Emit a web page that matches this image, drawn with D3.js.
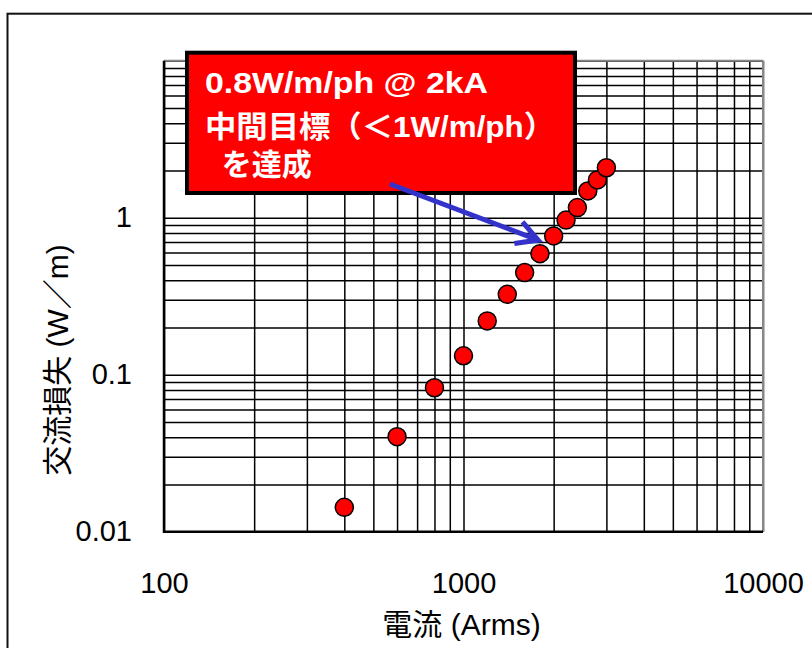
<!DOCTYPE html>
<html>
<head>
<meta charset="utf-8">
<script src="https://cdn.jsdelivr.net/npm/d3@7"></script>
<style>
  html, body { margin: 0; padding: 0; background: #fff; }
  svg { display: block; }
  text { font-family: "Liberation Sans", Arial, "Noto Sans CJK JP", sans-serif; }
</style>
</head>
<body>
<svg id="chart" width="812" height="648"></svg>
<script>
// Measured AC loss versus transport current
const current = [400, 600, 800, 1000, 1200, 1400, 1600, 1800, 2000, 2200, 2400, 2600, 2800, 3000];
const acLoss  = [0.0143, 0.0403, 0.0826, 0.132, 0.22, 0.325, 0.447, 0.59, 0.765, 0.966, 1.16, 1.48, 1.74, 2.08];

const xTicks = [100, 1000, 10000];
const yTicks = [0.01, 0.1, 1];
const xTitle = "電流 (Arms)";
const yTitle = "交流損失 (W／m)";
const noteLines = ["0.8W/m/ph @ 2kA", "中間目標（＜1W/m/ph）", "  を達成"];
const arrowFrom = [568, 1.64];    // arrow start, in data units
const arrowTo   = [1775, 0.72];   // arrow tip, in data units

const svg = d3.select("#chart");
const plot = { left: 164, right: 763, top: 60.7, bottom: 531.7 };

const x = d3.scaleLog().domain([100, 10000]).range([plot.left, plot.right]);
const y = d3.scaleLog().domain([0.01, 10]).range([plot.bottom, plot.top]);

// outer frame
svg.append("rect")
  .attr("x", 7.5).attr("y", 13.7).attr("width", 900).attr("height", 800)
  .attr("fill", "none").attr("stroke", "#111").attr("stroke-width", 2);

// minor + major grid values for each decade
const xGrid = [];
[100, 1000].forEach(d => { for (let k = 1; k <= 9; k++) xGrid.push(d * k); });
xGrid.push(10000);
const yGrid = [];
[0.01, 0.1, 1].forEach(d => { for (let k = 1; k <= 9; k++) yGrid.push(+(d * k).toPrecision(3)); });
yGrid.push(10);

const gx = svg.append("g")
  .attr("transform", `translate(0,${plot.bottom})`)
  .call(d3.axisBottom(x).tickValues(xGrid).tickFormat("")
    .tickSize(-(plot.bottom - plot.top)).tickSizeOuter(0));
gx.select(".domain").remove();
gx.selectAll("line").attr("stroke", "#000").attr("stroke-width", 1.5);

const gy = svg.append("g")
  .attr("transform", `translate(${plot.left},0)`)
  .call(d3.axisLeft(y).tickValues(yGrid).tickFormat("")
    .tickSize(-(plot.right - plot.left)).tickSizeOuter(0));
gy.select(".domain").remove();
gy.selectAll("line").attr("stroke", "#000").attr("stroke-width", 1.5);

// plot border: grey top/right, black left/bottom
svg.append("line").attr("x1", plot.left).attr("x2", plot.right)
  .attr("y1", plot.top).attr("y2", plot.top).attr("stroke", "#888").attr("stroke-width", 2);
svg.append("line").attr("x1", plot.right).attr("x2", plot.right)
  .attr("y1", plot.top).attr("y2", plot.bottom).attr("stroke", "#888").attr("stroke-width", 2);
svg.append("line").attr("x1", plot.left).attr("x2", plot.left)
  .attr("y1", plot.top).attr("y2", plot.bottom + 1).attr("stroke", "#000").attr("stroke-width", 2.5);
svg.append("line").attr("x1", plot.left - 1).attr("x2", plot.right)
  .attr("y1", plot.bottom).attr("y2", plot.bottom).attr("stroke", "#000").attr("stroke-width", 2.5);

// tick labels
const xAxis = svg.append("g")
  .attr("transform", `translate(0,${plot.bottom})`)
  .call(d3.axisBottom(x).tickValues(xTicks).tickFormat(d3.format("d"))
    .tickSize(0).tickPadding(41));
xAxis.select(".domain").remove();
xAxis.selectAll("text").attr("font-size", 29).attr("fill", "#000")
  .style("font-family", "'Liberation Sans', Arial, sans-serif");

const yAxis = svg.append("g")
  .attr("transform", `translate(${plot.left},0)`)
  .call(d3.axisLeft(y).tickValues(yTicks).tickFormat(d => String(d))
    .tickSize(0).tickPadding(32));
yAxis.select(".domain").remove();
yAxis.selectAll("text").attr("font-size", 29).attr("fill", "#000")
  .style("font-family", "'Liberation Sans', Arial, sans-serif");

// axis titles
svg.append("text")
  .attr("x", 461.5).attr("y", 635).attr("text-anchor", "middle")
  .attr("font-size", 30).attr("fill", "#000").text(xTitle);
svg.append("text")
  .attr("transform", "translate(68,360) rotate(-90)")
  .attr("text-anchor", "middle")
  .attr("font-size", 30).attr("fill", "#000").text(yTitle);

// data points
svg.append("g").selectAll("circle")
  .data(current.map((c, i) => [c, acLoss[i]]))
  .join("circle")
  .attr("cx", d => x(d[0])).attr("cy", d => y(d[1])).attr("r", 9)
  .attr("fill", "#ff0000").attr("stroke", "#000").attr("stroke-width", 1.5);

// annotation box
svg.append("rect")
  .attr("x", 187).attr("y", 52.7).attr("width", 388).attr("height", 140.3)
  .attr("fill", "#ff0000").attr("stroke", "#000").attr("stroke-width", 4);

const noteY = [93, 137, 175];
const noteX = [205, 205, 205];
const noteLen = [283, 350, null];
noteLines.forEach((t, i) => {
  const tx = svg.append("text")
    .attr("x", noteX[i]).attr("y", noteY[i])
    .attr("font-size", 30).attr("font-weight", "bold").attr("fill", "#fff")
    .attr("xml:space", "preserve")
    .style("white-space", "pre")
    .text(t);
  if (noteLen[i]) tx.attr("textLength", noteLen[i]).attr("lengthAdjust", "spacingAndGlyphs");
});

// arrow pointing to the 2 kA point
const ax0 = x(arrowFrom[0]), ay0 = y(arrowFrom[1]);
const ax1 = x(arrowTo[0]), ay1 = y(arrowTo[1]);
const ang = Math.atan2(ay1 - ay0, ax1 - ax0);
const head = 24, spread = 0.5;
svg.append("line")
  .attr("x1", ax0).attr("y1", ay0).attr("x2", ax1 - 2 * Math.cos(ang)).attr("y2", ay1 - 2 * Math.sin(ang))
  .attr("stroke", "#3333cc").attr("stroke-width", 5);
svg.append("path")
  .attr("d", `M${ax1 - head * Math.cos(ang - spread)},${ay1 - head * Math.sin(ang - spread)}` +
             `L${ax1},${ay1}` +
             `L${ax1 - head * Math.cos(ang + spread)},${ay1 - head * Math.sin(ang + spread)}`)
  .attr("fill", "none").attr("stroke", "#3333cc").attr("stroke-width", 5)
  .attr("stroke-linejoin", "miter");
</script>
</body>
</html>
